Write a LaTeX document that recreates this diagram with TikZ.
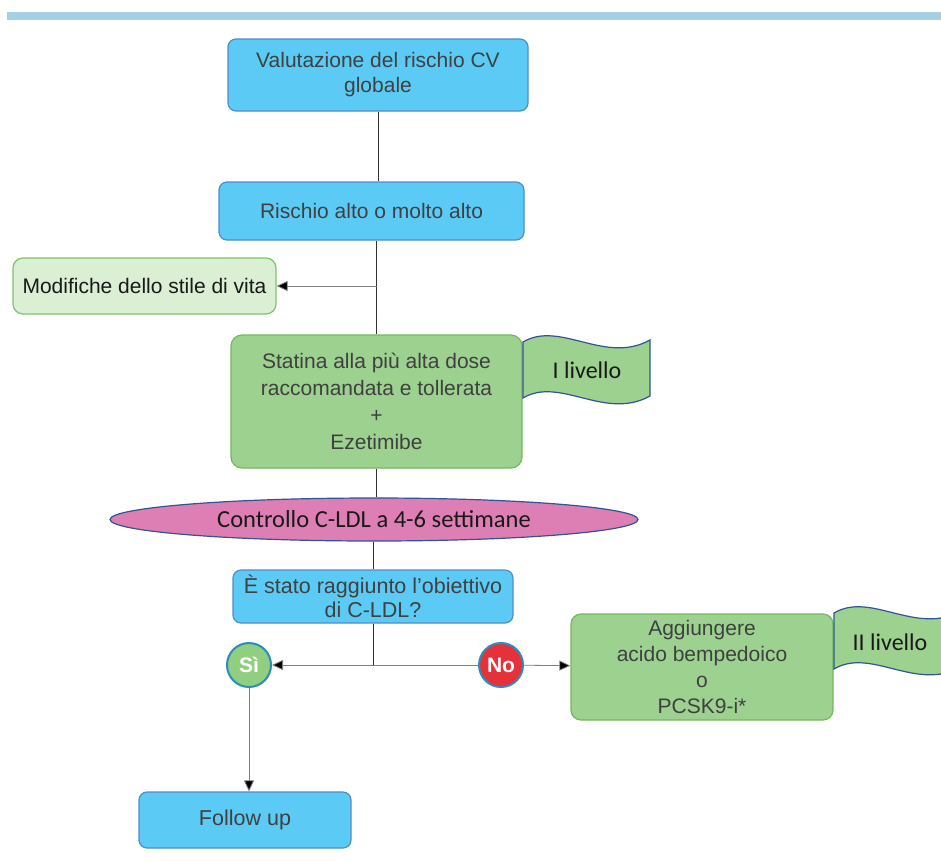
\documentclass[tikz,border=0pt]{standalone}
\usepackage{fontspec}
\setmainfont{Liberation Sans}
\newfontfamily\calibri{Carlito}
\usetikzlibrary{shapes.geometric,arrows.meta}
\definecolor{barblue}{HTML}{A6CFE2}
\definecolor{cyanfill}{HTML}{5BCBF5}
\definecolor{cyanedge}{HTML}{4F8CCB}
\definecolor{greenfill}{HTML}{9CD18F}
\definecolor{greenedge}{HTML}{74B85E}
\definecolor{palefill}{HTML}{DAEFD4}
\definecolor{paleedge}{HTML}{80C26A}
\definecolor{pinkfill}{HTML}{DD7FB4}
\definecolor{navyedge}{HTML}{2F5597}
\definecolor{sigreen}{HTML}{8FCF7F}
\definecolor{nored}{HTML}{E5323A}
\definecolor{ringblue}{HTML}{2A8CC0}
\definecolor{txtgray}{HTML}{404040}
\tikzset{
  cyanbox/.style={rectangle,draw=cyanedge,fill=cyanfill,rounded corners=8pt,line width=1.2pt,
    text=txtgray,align=center,inner sep=0pt,font=\fontsize{21}{25}\selectfont},
  greenbox/.style={rectangle,draw=greenedge,fill=greenfill,rounded corners=11pt,line width=1.2pt,
    text=txtgray,align=center,inner sep=0pt,font=\fontsize{21}{27}\selectfont},
  flagsty/.style={draw=navyedge,fill=greenfill,line width=1.2pt},
  answer/.style={circle,draw=ringblue,line width=2pt,text=white,minimum size=44pt,inner sep=0pt,
    font=\fontsize{21}{21}\selectfont\bfseries},
  conn/.style={draw=black!80,line width=0.8pt},
  arr/.style={draw=black!50,line width=0.8pt,-{Triangle[length=11pt,width=10pt,fill=black]}}
}
\begin{document}
\begin{tikzpicture}[x=1pt,y=-1pt]
\clip (0,0) rectangle (941,860);
\fill[barblue](7,12) rectangle (941,20); %top bar
%boxes
\node[cyanbox,minimum width=300pt,minimum height=72pt](val)at(378,75){Valutazione del rischio CV\\globale};
\node[cyanbox,minimum width=305pt,minimum height=58pt](ris)at(371.5,211){Rischio alto o molto alto};
\node[rectangle,draw=paleedge,fill=palefill,rounded corners=10pt,line width=1.2pt,minimum width=263pt,
  minimum height=56pt,inner sep=0pt,text=black!90,font=\fontsize{21}{25}\selectfont](mod)at(144.5,286){Modifiche dello stile di vita};
\node[greenbox,minimum width=291pt,minimum height=133pt](sta)at(376.5,401.5){Statina alla più alta dose\\raccomandata e tollerata\\+\\Ezetimibe};
\node[ellipse,draw=navyedge,fill=pinkfill,line width=1.2pt,minimum width=528pt,minimum height=43pt,inner sep=0pt,
  text=black!90,font=\calibri\fontsize{24.5}{24.5}\selectfont](ell)at(374,519.5){Controllo C-LDL a 4-6 settimane};
\node[cyanbox,minimum width=280pt,minimum height=53pt,font=\fontsize{21.5}{23.5}\selectfont](est)at(373,596.5){È stato raggiunto l’obiettivo\\di C-LDL?};
\node[answer,fill=sigreen](si)at(249,665){Sì};
\node[answer,fill=nored](no)at(501,665){No};
\node[greenbox,minimum width=262pt,minimum height=106pt,rounded corners=10pt,font=\fontsize{21}{25.7}\selectfont](agg)at(702,667){Aggiungere\\acido bempedoico\\o\\PCSK9-i*};
\node[cyanbox,minimum width=212pt,minimum height=56pt,font=\fontsize{21.5}{25}\selectfont](fol)at(245,820){Follow up};
%flags
\draw[flagsty,shift={(523,342)}](0,0) .. controls (37,-22) and (82,23) .. (127,-2)
  --(127,54) .. controls (82,79) and (37,34) .. (0,56)--cycle;
\node[font=\calibri\fontsize{24}{24}\selectfont,text=black!90](lv1)at(587,370){I livello};
\draw[flagsty,shift={(834,613)}](0,0) .. controls (37,-22) and (82,23) .. (127,-2)
  --(127,54) .. controls (82,79) and (37,34) .. (0,56)--cycle;
\node[font=\calibri\fontsize{24}{24}\selectfont,text=black!90](lv2)at(890,642){II livello};
%connectors
\draw[conn](val.south)--(val.south |- ris.north);
\draw[conn](ris.south -| sta.north)--(sta.north);
\draw[conn](sta.south)--(sta.south |- ell.north);
\draw[conn](ell.south -| est.north)--(est.north);
\coordinate(m)at(sta.north |- mod.east);
\draw[arr](m)--(mod.east);
\coordinate(j)at(est.south |- si);
\draw[conn](est.south)--(j);
\draw[arr](j)--(si);
\draw[conn,draw=black!50](j)--(no);
\draw[arr](no)--(agg);
\draw[arr](si)--(si |- fol.north);
\end{tikzpicture}
\end{document}
